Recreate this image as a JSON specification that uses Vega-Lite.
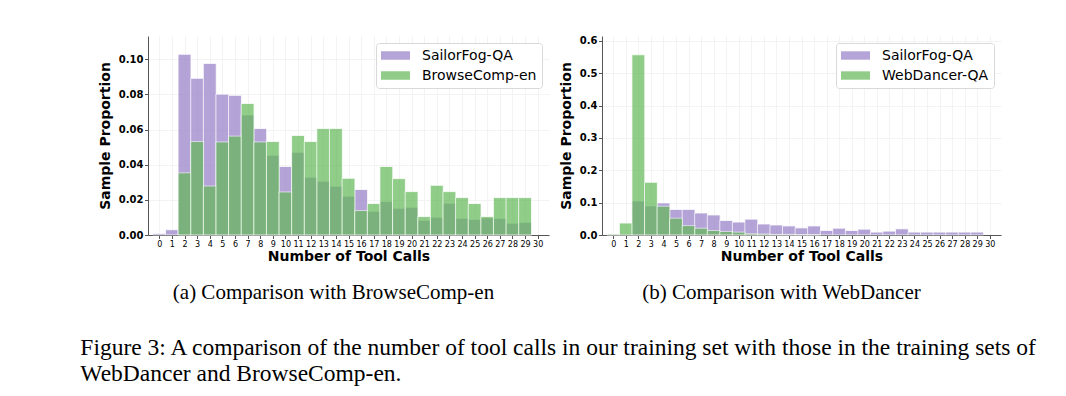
{
  "$schema": "https://vega.github.io/schema/vega-lite/v6.json",
  "padding": {"left": 80, "top": 35, "right": 0, "bottom": 0},
  "background": "white",
  "datasets": {
    "browse": [
      {"calls": 0, "dataset": "SailorFog-QA", "proportion": 0.0008},
      {"calls": 1, "dataset": "SailorFog-QA", "proportion": 0.003},
      {"calls": 2, "dataset": "SailorFog-QA", "proportion": 0.1029},
      {"calls": 3, "dataset": "SailorFog-QA", "proportion": 0.0892},
      {"calls": 4, "dataset": "SailorFog-QA", "proportion": 0.0977},
      {"calls": 5, "dataset": "SailorFog-QA", "proportion": 0.0802},
      {"calls": 6, "dataset": "SailorFog-QA", "proportion": 0.0795},
      {"calls": 7, "dataset": "SailorFog-QA", "proportion": 0.0683},
      {"calls": 8, "dataset": "SailorFog-QA", "proportion": 0.0606},
      {"calls": 9, "dataset": "SailorFog-QA", "proportion": 0.0454},
      {"calls": 10, "dataset": "SailorFog-QA", "proportion": 0.039},
      {"calls": 11, "dataset": "SailorFog-QA", "proportion": 0.0471},
      {"calls": 12, "dataset": "SailorFog-QA", "proportion": 0.0329},
      {"calls": 13, "dataset": "SailorFog-QA", "proportion": 0.0306},
      {"calls": 14, "dataset": "SailorFog-QA", "proportion": 0.0278},
      {"calls": 15, "dataset": "SailorFog-QA", "proportion": 0.0221},
      {"calls": 16, "dataset": "SailorFog-QA", "proportion": 0.0259},
      {"calls": 17, "dataset": "SailorFog-QA", "proportion": 0.0135},
      {"calls": 18, "dataset": "SailorFog-QA", "proportion": 0.019},
      {"calls": 19, "dataset": "SailorFog-QA", "proportion": 0.0152},
      {"calls": 20, "dataset": "SailorFog-QA", "proportion": 0.0158},
      {"calls": 21, "dataset": "SailorFog-QA", "proportion": 0.0084},
      {"calls": 22, "dataset": "SailorFog-QA", "proportion": 0.0101},
      {"calls": 23, "dataset": "SailorFog-QA", "proportion": 0.0181},
      {"calls": 24, "dataset": "SailorFog-QA", "proportion": 0.0095},
      {"calls": 25, "dataset": "SailorFog-QA", "proportion": 0.0089},
      {"calls": 26, "dataset": "SailorFog-QA", "proportion": 0.0097},
      {"calls": 27, "dataset": "SailorFog-QA", "proportion": 0.0095},
      {"calls": 28, "dataset": "SailorFog-QA", "proportion": 0.0067},
      {"calls": 29, "dataset": "SailorFog-QA", "proportion": 0.0072},
      {"calls": 2, "dataset": "BrowseComp-en", "proportion": 0.0354},
      {"calls": 3, "dataset": "BrowseComp-en", "proportion": 0.0532},
      {"calls": 4, "dataset": "BrowseComp-en", "proportion": 0.0279},
      {"calls": 5, "dataset": "BrowseComp-en", "proportion": 0.053},
      {"calls": 6, "dataset": "BrowseComp-en", "proportion": 0.0563},
      {"calls": 7, "dataset": "BrowseComp-en", "proportion": 0.0749},
      {"calls": 8, "dataset": "BrowseComp-en", "proportion": 0.053},
      {"calls": 9, "dataset": "BrowseComp-en", "proportion": 0.0532},
      {"calls": 10, "dataset": "BrowseComp-en", "proportion": 0.0245},
      {"calls": 11, "dataset": "BrowseComp-en", "proportion": 0.0567},
      {"calls": 12, "dataset": "BrowseComp-en", "proportion": 0.0532},
      {"calls": 13, "dataset": "BrowseComp-en", "proportion": 0.0606},
      {"calls": 14, "dataset": "BrowseComp-en", "proportion": 0.0606},
      {"calls": 15, "dataset": "BrowseComp-en", "proportion": 0.0323},
      {"calls": 16, "dataset": "BrowseComp-en", "proportion": 0.0139},
      {"calls": 17, "dataset": "BrowseComp-en", "proportion": 0.0179},
      {"calls": 18, "dataset": "BrowseComp-en", "proportion": 0.039},
      {"calls": 19, "dataset": "BrowseComp-en", "proportion": 0.0321},
      {"calls": 20, "dataset": "BrowseComp-en", "proportion": 0.0247},
      {"calls": 21, "dataset": "BrowseComp-en", "proportion": 0.0105},
      {"calls": 22, "dataset": "BrowseComp-en", "proportion": 0.0283},
      {"calls": 23, "dataset": "BrowseComp-en", "proportion": 0.0247},
      {"calls": 24, "dataset": "BrowseComp-en", "proportion": 0.0213},
      {"calls": 25, "dataset": "BrowseComp-en", "proportion": 0.0179},
      {"calls": 26, "dataset": "BrowseComp-en", "proportion": 0.0105},
      {"calls": 27, "dataset": "BrowseComp-en", "proportion": 0.0213},
      {"calls": 28, "dataset": "BrowseComp-en", "proportion": 0.0213},
      {"calls": 29, "dataset": "BrowseComp-en", "proportion": 0.0213}
    ],
    "dancer": [
      {"calls": 0, "dataset": "SailorFog-QA", "proportion": 0.002},
      {"calls": 1, "dataset": "SailorFog-QA", "proportion": 0.003},
      {"calls": 2, "dataset": "SailorFog-QA", "proportion": 0.105},
      {"calls": 3, "dataset": "SailorFog-QA", "proportion": 0.09},
      {"calls": 4, "dataset": "SailorFog-QA", "proportion": 0.099},
      {"calls": 5, "dataset": "SailorFog-QA", "proportion": 0.079},
      {"calls": 6, "dataset": "SailorFog-QA", "proportion": 0.079},
      {"calls": 7, "dataset": "SailorFog-QA", "proportion": 0.068},
      {"calls": 8, "dataset": "SailorFog-QA", "proportion": 0.062},
      {"calls": 9, "dataset": "SailorFog-QA", "proportion": 0.045},
      {"calls": 10, "dataset": "SailorFog-QA", "proportion": 0.04},
      {"calls": 11, "dataset": "SailorFog-QA", "proportion": 0.049},
      {"calls": 12, "dataset": "SailorFog-QA", "proportion": 0.034},
      {"calls": 13, "dataset": "SailorFog-QA", "proportion": 0.031},
      {"calls": 14, "dataset": "SailorFog-QA", "proportion": 0.028},
      {"calls": 15, "dataset": "SailorFog-QA", "proportion": 0.022},
      {"calls": 16, "dataset": "SailorFog-QA", "proportion": 0.028},
      {"calls": 17, "dataset": "SailorFog-QA", "proportion": 0.014},
      {"calls": 18, "dataset": "SailorFog-QA", "proportion": 0.021},
      {"calls": 19, "dataset": "SailorFog-QA", "proportion": 0.014},
      {"calls": 20, "dataset": "SailorFog-QA", "proportion": 0.018},
      {"calls": 21, "dataset": "SailorFog-QA", "proportion": 0.009},
      {"calls": 22, "dataset": "SailorFog-QA", "proportion": 0.012},
      {"calls": 23, "dataset": "SailorFog-QA", "proportion": 0.019},
      {"calls": 24, "dataset": "SailorFog-QA", "proportion": 0.009},
      {"calls": 25, "dataset": "SailorFog-QA", "proportion": 0.009},
      {"calls": 26, "dataset": "SailorFog-QA", "proportion": 0.009},
      {"calls": 27, "dataset": "SailorFog-QA", "proportion": 0.009},
      {"calls": 28, "dataset": "SailorFog-QA", "proportion": 0.009},
      {"calls": 29, "dataset": "SailorFog-QA", "proportion": 0.009},
      {"calls": 0, "dataset": "WebDancer-QA", "proportion": 0.003},
      {"calls": 1, "dataset": "WebDancer-QA", "proportion": 0.037},
      {"calls": 2, "dataset": "WebDancer-QA", "proportion": 0.557},
      {"calls": 3, "dataset": "WebDancer-QA", "proportion": 0.163},
      {"calls": 4, "dataset": "WebDancer-QA", "proportion": 0.089},
      {"calls": 5, "dataset": "WebDancer-QA", "proportion": 0.052},
      {"calls": 6, "dataset": "WebDancer-QA", "proportion": 0.029},
      {"calls": 7, "dataset": "WebDancer-QA", "proportion": 0.021},
      {"calls": 8, "dataset": "WebDancer-QA", "proportion": 0.014},
      {"calls": 9, "dataset": "WebDancer-QA", "proportion": 0.011},
      {"calls": 10, "dataset": "WebDancer-QA", "proportion": 0.009},
      {"calls": 11, "dataset": "WebDancer-QA", "proportion": 0.004},
      {"calls": 12, "dataset": "WebDancer-QA", "proportion": 0.003},
      {"calls": 13, "dataset": "WebDancer-QA", "proportion": 0.002},
      {"calls": 14, "dataset": "WebDancer-QA", "proportion": 0.002},
      {"calls": 15, "dataset": "WebDancer-QA", "proportion": 0.001},
      {"calls": 16, "dataset": "WebDancer-QA", "proportion": 0.001}
    ]
  },
  "title": {
    "text": ["Figure 3: A comparison of the number of tool calls in our training set with those in the training sets of", "WebDancer and BrowseComp-en."],
    "orient": "bottom",
    "anchor": "start",
    "frame": "bounds",
    "dx": -18,
    "offset": 33,
    "font": "Liberation Serif",
    "fontSize": 23.5,
    "fontWeight": "normal",
    "color": "black",
    "lineHeight": 26
  },
  "spacing": 10,
  "hconcat": [
    {
      "width": 401,
      "height": 199,
      "title": {"text": "(a) Comparison with BrowseComp-en", "orient": "bottom", "anchor": "middle", "frame": "group", "dx": -15, "offset": 19, "fontSize": 21},
      "data": {"name": "browse"},
      "mark": {"type": "bar", "width": 12.9, "opacity": 0.7, "stroke": "white", "strokeWidth": 0.8},
      "encoding": {
        "x": {"field": "calls", "type": "quantitative", "title": "Number of Tool Calls",
              "scale": {"domain": [-0.5, 30.5], "nice": false, "zero": false},
              "axis": {"values": [0,1,2,3,4,5,6,7,8,9,10,11,12,13,14,15,16,17,18,19,20,21,22,23,24,25,26,27,28,29,30], "format": "d"}},
        "y": {"field": "proportion", "type": "quantitative", "stack": null, "title": "Sample Proportion",
              "scale": {"domain": [0, 0.1133], "nice": false},
              "axis": {"values": [0, 0.02, 0.04, 0.06, 0.08, 0.1], "format": ".2f"}},
        "color": {"field": "dataset", "type": "nominal", "title": null,
                  "scale": {"domain": ["SailorFog-QA", "BrowseComp-en"], "range": ["#947dc7", "#62b856"]}}
      }
    },
    {
      "width": 399,
      "height": 199,
      "title": {"text": "(b) Comparison with WebDancer", "orient": "bottom", "anchor": "middle", "frame": "group", "dx": -20, "offset": 19, "fontSize": 21},
      "data": {"name": "dancer"},
      "mark": {"type": "bar", "width": 12.9, "opacity": 0.7, "stroke": "white", "strokeWidth": 0.8},
      "encoding": {
        "x": {"field": "calls", "type": "quantitative", "title": "Number of Tool Calls",
              "scale": {"domain": [-0.5, 30.5], "nice": false, "zero": false},
              "axis": {"values": [0,1,2,3,4,5,6,7,8,9,10,11,12,13,14,15,16,17,18,19,20,21,22,23,24,25,26,27,28,29,30], "format": "d"}},
        "y": {"field": "proportion", "type": "quantitative", "stack": null, "title": "Sample Proportion",
              "scale": {"domain": [0, 0.615], "nice": false},
              "axis": {"values": [0, 0.1, 0.2, 0.3, 0.4, 0.5, 0.6], "format": ".1f"}},
        "color": {"field": "dataset", "type": "nominal", "title": null,
                  "scale": {"domain": ["SailorFog-QA", "WebDancer-QA"], "range": ["#947dc7", "#62b856"]}}
      }
    }
  ],
  "resolve": {"scale": {"color": "independent", "y": "independent"}, "legend": {"color": "independent"}},
  "config": {
    "view": {"stroke": null},
    "font": "DejaVu Sans",
    "title": {"font": "Liberation Serif", "fontSize": 21, "fontWeight": "normal", "color": "black", "baseline": "top"},
    "axis": {
      "domainColor": "#555555",
      "domainWidth": 1,
      "tickColor": "#555555",
      "tickSize": 3.5,
      "gridColor": "#f0f0f0",
      "gridWidth": 0.8,
      "labelColor": "black",
      "titleColor": "black",
      "titleFont": "DejaVu Sans",
      "titleFontSize": 14,
      "titleFontWeight": "bold",
      "labelFont": "DejaVu Sans"
    },
    "axisX": {"labelFontSize": 8, "labelAngle": 0, "labelPadding": 1.5, "titlePadding": 1, "labelFlush": false, "labelOverlap": false},
    "axisY": {"labelFontSize": 10, "labelFontWeight": "bold", "labelPadding": 1.5, "titlePadding": 6},
    "legend": {
      "orient": "top-right",
      "offset": 7,
      "padding": 5,
      "strokeColor": "#d9d9d9",
      "fillColor": "white",
      "cornerRadius": 3,
      "symbolType": "M-1,-0.29H1V0.29H-1Z",
      "symbolSize": 841,
      "symbolStrokeWidth": 0,
      "symbolOpacity": 0.7,
      "labelFont": "DejaVu Sans",
      "labelFontSize": 14,
      "labelColor": "black",
      "labelOffset": 12,
      "clipHeight": 15,
      "rowPadding": 5
    }
  }
}
